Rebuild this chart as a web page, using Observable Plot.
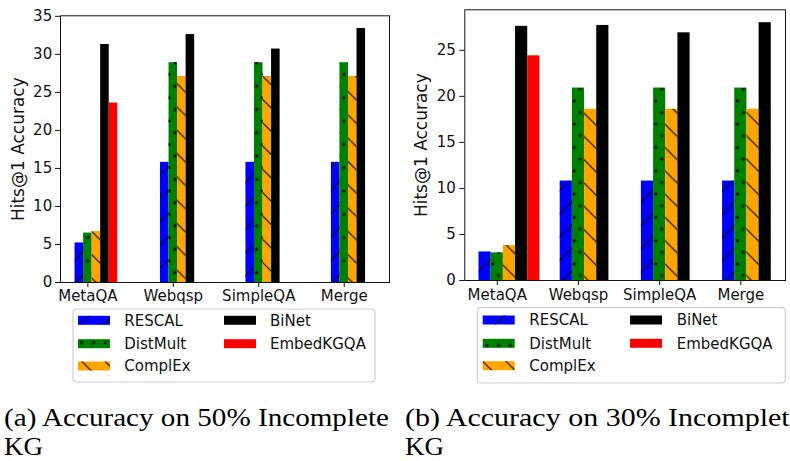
<!DOCTYPE html>
<html><head><meta charset="utf-8">
<script src="https://cdn.jsdelivr.net/npm/d3@7"></script>
<script src="https://cdn.jsdelivr.net/npm/@observablehq/plot@0.6"></script>
<style>
html,body{margin:0;padding:0;background:#fff;}
body{width:790px;height:461px;overflow:hidden;position:relative;font-family:"DejaVu Sans",sans-serif;}
.panel{position:absolute;top:0;}
#caps{position:absolute;left:0;top:0;}
</style></head><body>
<div id="pa" class="panel" style="left:0"></div>
<div id="pb" class="panel" style="left:395px"></div>
<svg id="caps" width="790" height="461"></svg>
<script>
// ---- data ----
const categories = ["MetaQA", "Webqsp", "SimpleQA", "Merge"];
const methods = ["RESCAL", "DistMult", "ComplEx", "BiNet", "EmbedKGQA"];
const colors = ["#0000ff", "#008000", "#ffa500", "#000000", "#ff0000"];
const hatches = ["slash", "dots", "backslash", null, null];
const yLabel = "Hits@1 Accuracy";

// (a) 50% incomplete KG
const rescal50   = [5.2, 15.8, 15.8, 15.8];
const distmult50 = [6.5, 28.9, 28.9, 28.9];
const complex50  = [6.7, 27.1, 27.1, 27.1];
const binet50    = [31.3, 32.6, 30.7, 33.4];
const embed50    = [23.6, null, null, null];
const yTicks50   = [0, 5, 10, 15, 20, 25, 30, 35];

// (b) 30% incomplete KG
const rescal30   = [3.1, 10.8, 10.8, 10.8];
const distmult30 = [3.0, 20.9, 20.9, 20.9];
const complex30  = [3.8, 18.6, 18.6, 18.6];
const binet30    = [27.6, 27.7, 26.9, 28.0];
const embed30    = [24.4, null, null, null];
const yTicks30   = [0, 5, 10, 15, 20, 25];

const captionA = ["(a) Accuracy on 50% Incomplete", "KG"];
const captionB = ["(b) Accuracy on 30% Incomplete", "KG"];

// ---- drawing ----
function addDefs(svg, id, ph) {
  const P = 23.3, H = 11.65;
  svg.insert("defs", ":first-child").html(
    `<pattern id="${id}-slash" patternUnits="userSpaceOnUse" width="${P}" height="${P}" x="0" y="${ph.slash}">
       <path d="M-4,4L4,-4M0,${P}L${P},0M${P-4},${P+4}L${P+4},${P-4}" stroke="#000" stroke-width="1.1" fill="none"/>
     </pattern>
     <pattern id="${id}-backslash" patternUnits="userSpaceOnUse" width="${P}" height="${P}" x="0" y="${ph.back}">
       <path d="M0,0L${P},${P}M-4,${P-4}L4,${P+4}M${P-4},-4L${P+4},4" stroke="#000" stroke-width="1.1" fill="none"/>
     </pattern>
     <pattern id="${id}-dots" patternUnits="userSpaceOnUse" width="${H}" height="${P}" x="${ph.dx}" y="${ph.dy}">
       <circle cx="2.9" cy="2.9" r="1.55" fill="#000"/>
       <circle cx="${2.9 + H/2}" cy="${2.9 + H}" r="1.55" fill="#000"/>
     </pattern>`);
}

function panel(el, o) {
  const rows = [];
  o.vals.forEach((arr, si) => arr.forEach((v, gi) => {
    if (v != null) rows.push({gi, si, method: methods[si], value: v});
  }));
  const w = o.w;
  const x1 = d => d.gi + (d.si - 1.5) * w;
  const x2 = d => d.gi + (d.si - 0.5) * w;
  const y1 = () => 0;
  const marks = [
    Plot.rect(rows, {x1, x2, y1, y2: "value", fill: "method"}),
    ...hatches.map((h, si) => h ? Plot.rect(rows.filter(d => d.si === si),
        {x1, x2, y1, y2: "value", fill: `url(#${o.id}-${h})`}) : null).filter(Boolean),
    Plot.frame({stroke: "#111", strokeWidth: 1}),
    Plot.axisY({ticks: o.yTicks, tickSize: 5, tickPadding: o.yPad, label: null, fontSize: 15}),
    Plot.axisX({ticks: [0, 1, 2, 3], tickFormat: i => categories[i], tickSize: 5, tickPadding: o.xPad, label: null, fontSize: 15}),
    Plot.text([yLabel], {frameAnchor: "left", textAnchor: "middle", lineAnchor: "middle", dx: o.labelDx, rotate: -90, fontSize: 17, text: d => d, fill: "#111"})
  ];
  const chart = Plot.plot({
    width: 395, height: 390,
    marginLeft: o.m[0], marginTop: o.m[1], marginRight: o.m[2], marginBottom: o.m[3],
    x: {domain: o.xDomain, axis: null},
    y: {domain: [0, o.yMax], axis: null},
    color: {domain: methods, range: colors},
    style: {fontFamily: "DejaVu Sans", fontSize: "15px", color: "#111", background: "transparent", overflow: "visible"},
    marks
  });
  const svg = d3.select(chart);
  addDefs(svg, o.id, o.ph);
  // legend
  const L = o.legend;
  const g = svg.append("g").attr("text-anchor", "start");
  g.append("rect").attr("x", L.box[0]).attr("y", L.box[1]).attr("width", L.box[2]).attr("height", L.box[3])
    .attr("rx", 3.5).attr("fill", "#fff").attr("stroke", "#cfcfcf").attr("stroke-width", 1.2);
  methods.forEach((m, i) => {
    const col = i < 3 ? 0 : 1, row = i < 3 ? i : i - 3;
    const px = L.patchX[col], tx = L.textX[col], cy = L.rows[row];
    g.append("rect").attr("x", px).attr("y", cy - 4.5).attr("width", L.patchW).attr("height", 9).attr("fill", colors[i]);
    if (hatches[i]) g.append("rect").attr("x", px).attr("y", cy - 4.5).attr("width", L.patchW).attr("height", 9)
      .attr("fill", `url(#${o.id}-${hatches[i]})`);
    g.append("text").attr("x", tx).attr("y", cy).attr("dy", "0.36em").attr("font-size", 15)
      .attr("text-anchor", "start").attr("fill", "#111").text(m);
  });
  el.appendChild(chart);
}

panel(document.getElementById("pa"), {
  id: "pa",
  vals: [rescal50, distmult50, complex50, binet50, embed50],
  w: 0.1, yMax: 35.07, xDomain: [-0.32, 3.53], yTicks: yTicks50,
  m: [60, 15.3, 6, 108], yPad: 3.3, xPad: 2.4, labelDx: -41.7,
  ph: {slash: 8.8, back: 23.2, dx: 9.0, dy: 13.3},
  legend: {box: [73, 309, 302, 73], patchX: [78, 224], patchW: 32, textX: [124.3, 270], rows: [320.3, 343.7, 366]}
});

panel(document.getElementById("pb"), {
  id: "pb",
  vals: [rescal30, distmult30, complex30, binet30, embed30],
  w: 0.15, yMax: 29.4, xDomain: [-0.40, 3.55], yTicks: yTicks30,
  m: [69.3, 9.3, 5, 110], yPad: 4, xPad: 4.3, labelDx: -43.5,
  ph: {slash: 5.5, back: 17.3, dx: 1.65, dy: 4.7},
  legend: {box: [82.3, 307.7, 308, 75.3], patchX: [87.7, 235], patchW: 32, textX: [134.3, 281.7], rows: [320, 343.3, 365.7]}
});

// captions
const caps = d3.select("#caps");
function caption(lines, x, len1) {
  caps.append("text").attr("x", x).attr("y", 426).attr("font-family", "Liberation Serif")
    .attr("font-size", 25).attr("fill", "#000").attr("textLength", len1).attr("lengthAdjust", "spacingAndGlyphs").text(lines[0]);
  caps.append("text").attr("x", x).attr("y", 455).attr("font-family", "Liberation Serif")
    .attr("font-size", 25).attr("fill", "#000").attr("textLength", 39).attr("lengthAdjust", "spacingAndGlyphs").text(lines[1]);
}
caption(captionA, 4, 385);
caption(captionB, 405, 398);
</script>
</body></html>
